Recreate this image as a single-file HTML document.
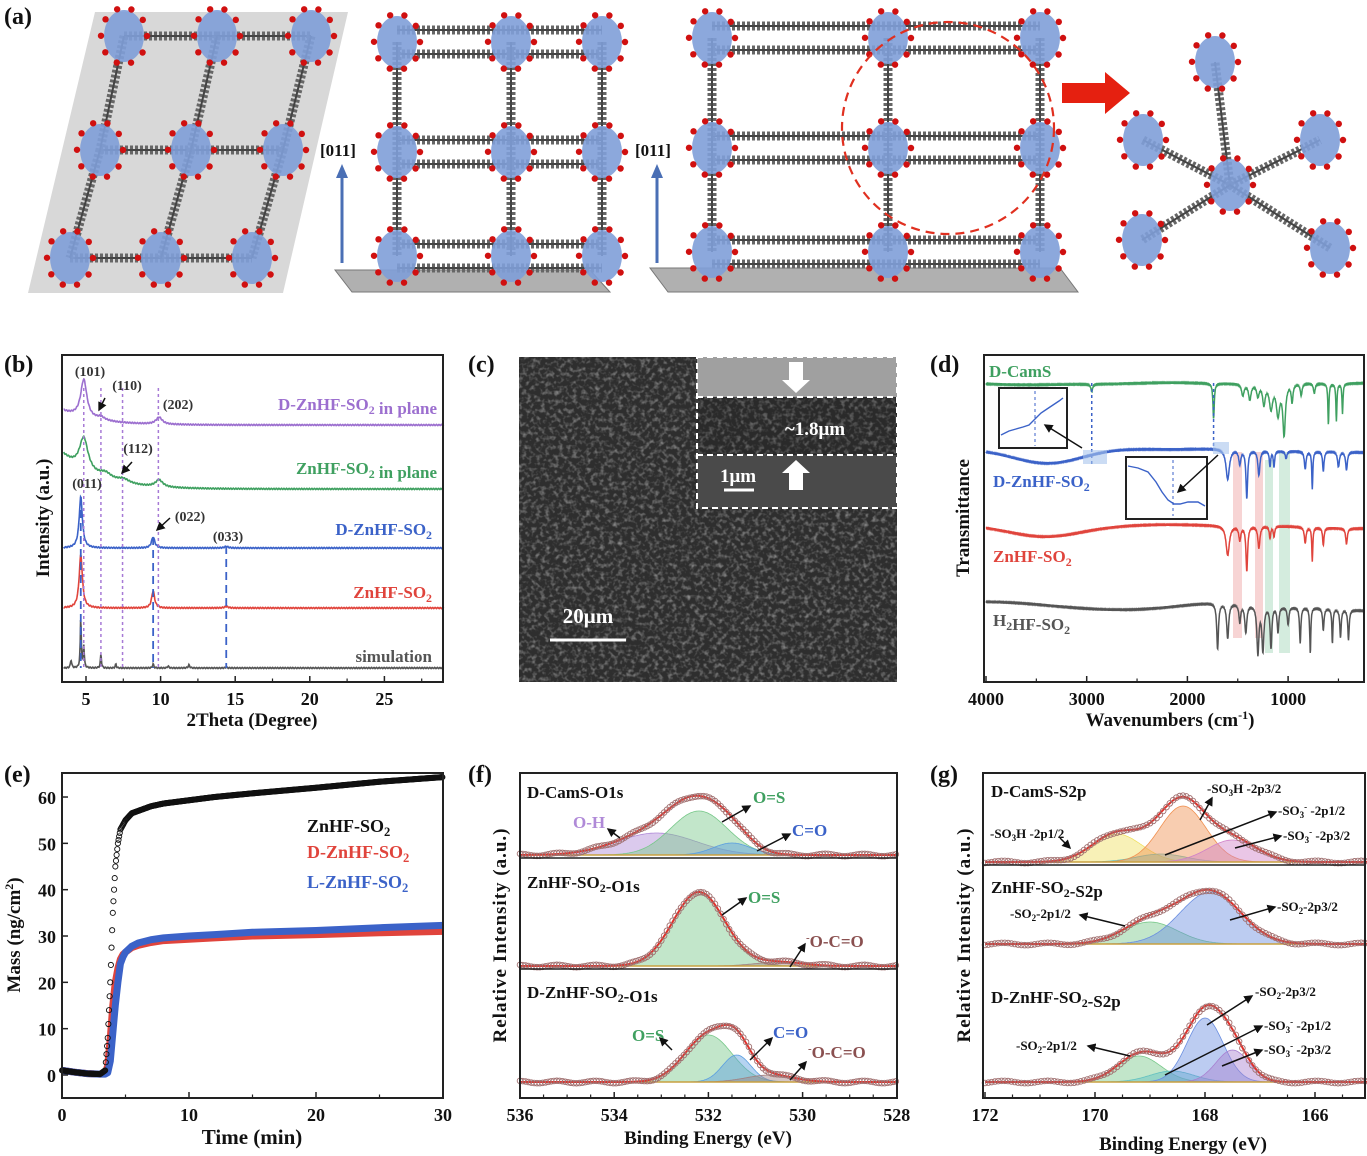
<!DOCTYPE html>
<html><head><meta charset="utf-8"><style>
html,body{margin:0;padding:0;background:#fff;}
svg{display:block;font-family:"Liberation Serif",serif;font-weight:bold;}
</style></head><body>
<svg id="fig" width="1367" height="1156" viewBox="0 0 1367 1156">
<defs>
<filter id="sem2" x="0" y="0" width="100%" height="100%">
<feTurbulence type="fractalNoise" baseFrequency="0.22" numOctaves="2" seed="7"/>
<feColorMatrix type="matrix" values="0 0 0 0 1  0 0 0 0 1  0 0 0 0 1  1.3 0 0 0 -0.6"/>
</filter>
<marker id="ah" markerWidth="6" markerHeight="6" refX="5" refY="3" orient="auto"><path d="M0,0 L6,3 L0,6 Z" fill="#111"/></marker>
</defs>
</svg>
<script>
const NS='http://www.w3.org/2000/svg';
const svg=document.getElementById('fig');
function mk(tag,attrs,name,parent){const el=document.createElementNS(NS,tag);for(const k in attrs)el.setAttribute(k,attrs[k]);


(parent||svg).appendChild(el);return el;}
function txt(x,y,s,size,fill,name,anchor,parent,extra){const t=mk('text',Object.assign({x:x,y:y,'font-size':size,fill:fill||'#111','text-anchor':anchor||'start'},extra||{}),name,parent);t.innerHTML=s;return t;}
function sub(s){return s.replace(/_(\w)/g,'<tspan dy="4" font-size="0.7em">$1</tspan><tspan dy="-4"></tspan>');}
function gauss(x,c,a,s){return a*Math.exp(-((x-c)*(x-c))/(2*s*s));}
function lor(x,c,a,w){return a/(1+((x-c)/w)*((x-c)/w));}

/* ================= (a) structures ================= */
const gA=mk('g',{},'panel-a-structures');
txt(4,24,'(a)',24,'#111','panel-a-label','start',gA);
mk('polygon',{points:'95,12 348,12 283,293 28,293',fill:'#d8d8d8'},'lattice-plane',gA);
mk('polygon',{points:'335,270 590,270 610,292 352,292',fill:'#b0b0b0',stroke:'#777'},'substrate-plate-1',gA);
mk('polygon',{points:'650,268 1060,268 1078,292 668,292',fill:'#b0b0b0',stroke:'#777'},'substrate-plate-2',gA);
function node(x,y,g,n){mk('ellipse',{cx:x,cy:y,rx:20,ry:26,fill:'#7f9fd8',opacity:0.9},n,g);
 for(let i=0;i<10;i++){const a=i*0.63;mk('circle',{cx:x+23*Math.cos(a),cy:y+28*Math.sin(a),r:3.2,fill:'#d01010'},n+'-oxygen',g);}}
function link(x1,y1,x2,y2,g,n){mk('line',{x1:x1,y1:y1,x2:x2,y2:y2,stroke:'#666','stroke-width':9,'stroke-dasharray':'3 2'},n,g);
 mk('line',{x1:x1,y1:y1,x2:x2,y2:y2,stroke:'#444','stroke-width':2},n+'-core',g);}
function lattice(cols,rows,g,n,dbl){
 for(let r=0;r<rows.length;r++)for(let c=0;c<cols[r].length-1;c++){const y=rows[r];
   if(dbl){link(cols[r][c],y-12,cols[r][c+1],y-12,g,n+'-hlink');link(cols[r][c],y+12,cols[r][c+1],y+12,g,n+'-hlink');}
   else link(cols[r][c],y,cols[r][c+1],y,g,n+'-hlink');}
 for(let r=0;r<rows.length-1;r++)for(let c=0;c<cols[r].length;c++)link(cols[r][c],rows[r],cols[r+1][c],rows[r+1],g,n+'-vlink');
 for(let r=0;r<rows.length;r++)for(let c=0;c<cols[r].length;c++)node(cols[r][c],rows[r],g,n+'-node');}
lattice([[124,217,311],[100,191,283],[70,161,252]],[36,150,258],gA,'view1',false);
lattice([[397,511,602],[397,511,602],[397,511,602]],[42,152,256],gA,'view2',true);
lattice([[712,888,1040],[712,888,1040],[712,888,1040]],[38,148,252],gA,'view3',true);
for(const ax of [342,657]){mk('line',{x1:ax,y1:263,x2:ax,y2:175,stroke:'#4a6fb5','stroke-width':3},'direction-arrow',gA);
 mk('polygon',{points:`${ax-6},178 ${ax+6},178 ${ax},164`,fill:'#4a6fb5'},'direction-arrowhead',gA);
 txt(ax-22,156,'[011]',17,'#111','direction-label','start',gA);}
mk('circle',{cx:948,cy:128,r:106,fill:'none',stroke:'#e03020','stroke-width':2.2,'stroke-dasharray':'9 6'},'highlight-circle',gA);
mk('polygon',{points:'1062,83 1105,83 1105,72 1130,93 1105,114 1105,103 1062,103',fill:'#e52010'},'zoom-arrow',gA);
const cl=[[1215,62],[1320,140],[1143,140],[1142,240],[1330,248],[1230,185]];
for(let i=0;i<5;i++)link(cl[5][0],cl[5][1],cl[i][0],cl[i][1],gA,'cluster-link');
for(const p of cl)node(p[0],p[1],gA,'cluster-node');

/* ================= axes helper ================= */
function frame(x0,y0,x1,y1,n){mk('rect',{x:x0,y:y0,width:x1-x0,height:y1-y0,fill:'none',stroke:'#222','stroke-width':2},n);}
function xticks(vals,labels,fx,y1,n,minor){vals.forEach((v,i)=>{const x=fx(v);mk('line',{x1:x,y1:y1,x2:x,y2:y1-6,stroke:'#222','stroke-width':1.5},n+'-tick');
  txt(x,y1+23,labels[i],18,'#111',n+'-tick-label','middle');});
 (minor||[]).forEach(v=>{const x=fx(v);mk('line',{x1:x,y1:y1,x2:x,y2:y1-3.5,stroke:'#222','stroke-width':1.2},n+'-minor-tick');});}
function path(pts,fx,fy,attrs,n,parent){let d='';pts.forEach((p,i)=>{d+=(i?'L':'M')+fx(p[0]).toFixed(1)+','+fy(p[1]).toFixed(1);});return mk('path',Object.assign({d:d,fill:'none'},attrs),n,parent);}

/* ================= (b) XRD ================= */
const bX0=62,bX1=443,bY0=355,bY1=682;
const bx=v=>86+(v-5)*14.92;
txt(4,372,'(b)',24,'#111','panel-b-label');
const xrdNames=['D-ZnHF-SO2 in plane','ZnHF-SO2 in plane','D-ZnHF-SO2','ZnHF-SO2','simulation'];
const xrdColors=['#9c6fcf','#3fa060','#3b62c8','#e0443c','#555'];
const xrdBase=[425,489,548,608,668];
const xrdStartLift=[14,34,0,0,0];
const xrdPeaks=[
 [[4.85,38,0.25],[6.0,3,0.3],[9.9,7,0.25]],
 [[4.85,33,0.35],[6.3,6,0.5],[7.5,4,0.5],[9.9,7,0.3]],
 [[4.65,51,0.13],[9.5,11,0.13],[14.4,1.5,0.15]],
 [[4.65,53,0.13],[9.5,17,0.12],[14.4,1.5,0.15]],
 [[4.0,8,0.05],[4.65,50,0.04],[4.85,22,0.04],[6.0,14,0.04],[7.0,4,0.04],[9.5,4,0.05],[10.5,2,0.05],[11.9,3,0.06],[14.4,1,0.05]]];
xrdBase.forEach((b,k)=>{const pts=[];for(let v=3.5;v<=29;v+=0.03){let y=b-xrdStartLift[k]*Math.exp(-(v-3.5)/2.2);
  xrdPeaks[k].forEach(p=>{y-=lor(v,p[0],p[1],p[2]);});y+=Math.sin(v*37+k)*0.6;pts.push([v,y]);}
  path(pts,bx,y=>y,{stroke:xrdColors[k],'stroke-width':1.6},'xrd-trace-'+k);});
const purpleLines=[4.85,6.0,7.45,9.85];
purpleLines.forEach(v=>mk('line',{x1:bx(v),y1:388,x2:bx(v),y2:668,stroke:'#a77ad6','stroke-width':1.5,'stroke-dasharray':'3 3'},'reflection-guide-purple'));
const blueLines=[4.65,9.5,14.4];const blueTop=[497,537,546];
blueLines.forEach((v,i)=>mk('line',{x1:bx(v),y1:blueTop[i],x2:bx(v),y2:668,stroke:'#3b62c8','stroke-width':1.8,'stroke-dasharray':'8 5'},'reflection-guide-blue'));
frame(bX0,bY0,bX1,bY1,'xrd-frame');
xticks([5,10,15,20,25],['5','10','15','20','25'],bx,bY1,'xrd-x',[7.5,12.5,17.5,22.5,27.5]);
txt(252,726,'2Theta (Degree)',19,'#111','xrd-x-title','middle');
txt(0,0,'Intensity (a.u.)',19,'#111','xrd-y-title','middle',null,{transform:'translate(49,518) rotate(-90)'});
[['(101)',90,376],['(110)',127,390],['(202)',178,409],['(112)',138,453],['(011)',87,488],['(022)',190,521],['(033)',228,541]].forEach(l=>txt(l[1],l[2],l[0],14,'#333','miller-index','middle'));
mk('line',{x1:105,y1:398,x2:99,y2:410,stroke:'#111','stroke-width':1.5,'marker-end':'url(#ah)'},'arrow-110');
mk('line',{x1:132,y1:462,x2:122,y2:473,stroke:'#111','stroke-width':1.5,'marker-end':'url(#ah)'},'arrow-112');
mk('line',{x1:170,y1:518,x2:157,y2:530,stroke:'#111','stroke-width':1.5,'marker-end':'url(#ah)'},'arrow-022');
txt(437,410,sub('D-ZnHF-SO_2 in plane'),17,'#9c6fcf','legend-d-in-plane','end');
txt(437,474,sub('ZnHF-SO_2 in plane'),17,'#3fa060','legend-in-plane','end');
txt(432,535,sub('D-ZnHF-SO_2'),17,'#3b62c8','legend-d-znhf','end');
txt(432,598,sub('ZnHF-SO_2'),17,'#e0443c','legend-znhf','end');
txt(432,662,'simulation',17,'#555','legend-simulation','end');

/* ================= (c) SEM ================= */
txt(468,372,'(c)',24,'#111','panel-c-label');
mk('rect',{x:519,y:357,width:378,height:325,fill:'#2e2e2e'},'sem-image');
mk('rect',{x:519,y:357,width:378,height:325,filter:'url(#sem2)',opacity:0.75},'sem-texture');
mk('rect',{x:697,y:357,width:200,height:151,fill:'#222'},'sem-inset');
mk('rect',{x:697,y:357,width:200,height:40,fill:'#a0a0a0'},'sem-inset-top');
mk('rect',{x:697,y:397,width:200,height:58,fill:'#2a2a2a'},'sem-inset-film');
mk('rect',{x:697,y:397,width:200,height:58,filter:'url(#sem2)',opacity:0.6},'sem-inset-film-texture');
mk('rect',{x:697,y:455,width:200,height:53,fill:'#4a4a4a'},'sem-inset-substrate');
mk('rect',{x:697,y:357,width:200,height:151,fill:'none',stroke:'#fff','stroke-width':2,'stroke-dasharray':'6 4'},'sem-inset-border');
mk('line',{x1:697,y1:397,x2:897,y2:397,stroke:'#fff','stroke-width':2,'stroke-dasharray':'6 4'},'sem-film-top');
mk('line',{x1:697,y1:455,x2:897,y2:455,stroke:'#fff','stroke-width':2,'stroke-dasharray':'6 4'},'sem-film-bottom');
mk('polygon',{points:'789,362 803,362 803,380 810,380 796,393 782,380 789,380',fill:'#fff'},'sem-arrow-down');
mk('polygon',{points:'789,490 803,490 803,473 810,473 796,460 782,473 789,473',fill:'#fff'},'sem-arrow-up');
txt(815,435,'~1.8μm',19,'#fff','sem-thickness-label','middle');
txt(738,482,'1μm',19,'#fff','sem-inset-scale-label','middle');
mk('line',{x1:724,y1:490,x2:754,y2:490,stroke:'#fff','stroke-width':3},'sem-inset-scalebar');
txt(588,623,'20μm',21,'#fff','sem-scale-label','middle');
mk('line',{x1:550,y1:640,x2:626,y2:640,stroke:'#fff','stroke-width':3},'sem-scalebar');

/* ================= (d) FTIR ================= */
const dX0=984,dX1=1364,dY0=355,dY1=682;
const dx=w=>986+(4000-w)*0.1007;
txt(930,372,'(d)',24,'#111','panel-d-label');
mk('rect',{x:1233,y:452,width:9,height:186,fill:'#f2b8b8',opacity:0.6},'band-pink-1');
mk('rect',{x:1255,y:452,width:8,height:186,fill:'#f2b8b8',opacity:0.6},'band-pink-2');
mk('rect',{x:1265,y:460,width:8,height:193,fill:'#b8e0c8',opacity:0.6},'band-green-1');
mk('rect',{x:1279,y:452,width:11,height:201,fill:'#b8e0c8',opacity:0.6},'band-green-2');
const irNames=['D-CamS','D-ZnHF-SO2','ZnHF-SO2','H2HF-SO2'];
const irColors=['#3fa060','#3b62c8','#e0443c','#555'];
const irBase=[383,449,525,602];
const irBroad=[[3400,2,400],[3400,14,350],[3400,12,350],[2700,8,500]];
const irPeaks=[
 [[2950,8,10],[1740,36,8],[1450,12,15],[1380,16,15],[1300,12,15],[1240,20,15],[1170,24,20],[1100,30,20],[1040,50,15],[960,18,10],[870,12,10],[740,10,10],[600,42,6],[520,38,6],[460,30,6]],
 [[1600,30,20],[1480,14,12],[1410,48,10],[1290,25,12],[1180,16,8],[1140,16,8],[1020,8,10],[830,18,10],[760,38,6],[650,20,8],[500,15,10],[420,18,10]],
 [[1600,30,20],[1480,14,12],[1410,45,10],[1290,22,12],[1180,12,8],[1140,10,8],[830,16,10],[760,34,6],[650,18,8],[420,16,10]],
 [[1700,46,10],[1600,35,12],[1480,18,10],[1420,28,12],[1300,48,12],[1250,45,12],[1170,42,10],[1100,26,10],[1000,18,10],[880,36,8],[780,46,6],[650,22,8],[560,35,6],[480,28,8],[400,30,8]]];
irBase.forEach((b,k)=>{const pts=[];for(let w=4000;w>=250;w-=3){let y=b+gauss(w,irBroad[k][0],irBroad[k][1],irBroad[k][2]);
  if(k>0&&w<1700)y+=(1700-w)*0.006*(k===3?1:0.4);
  irPeaks[k].forEach(p=>{y+=lor(w,p[0],p[1],p[2]);});y+=Math.sin(w*0.7+k)*0.5;pts.push([w,Math.min(y,678)]);}
  path(pts,dx,y=>y,{stroke:irColors[k],'stroke-width':1.5},'ir-trace-'+k);});
mk('line',{x1:dx(2950),y1:383,x2:dx(2950),y2:466,stroke:'#3b62c8','stroke-width':1.5,'stroke-dasharray':'3 3'},'ir-guide-2950');
mk('line',{x1:dx(1740),y1:383,x2:dx(1740),y2:450,stroke:'#3b62c8','stroke-width':1.5,'stroke-dasharray':'3 3'},'ir-guide-1740');
mk('rect',{x:1083,y:450,width:24,height:14,fill:'#a8c4ec',opacity:0.6},'ir-highlight-1');
mk('rect',{x:1213,y:442,width:16,height:12,fill:'#a8c4ec',opacity:0.6},'ir-highlight-2');
mk('rect',{x:999,y:388,width:68,height:60,fill:'#fff',stroke:'#222','stroke-width':2},'ir-inset-1');
path([[0,40],[8,36],[15,34],[22,32],[28,30],[34,24],[40,18],[46,14],[52,10],[58,6],[62,3]],v=>1001+v,v=>395+v*1.0,{stroke:'#3b62c8','stroke-width':1.4},'ir-inset-1-trace');
mk('line',{x1:1035,y1:391,x2:1035,y2:446,stroke:'#3b62c8','stroke-dasharray':'3 3'},'ir-inset-1-guide');
mk('line',{x1:1082,y1:448,x2:1045,y2:425,stroke:'#111','stroke-width':1.5,'marker-end':'url(#ah)'},'ir-inset-1-arrow');
mk('rect',{x:1126,y:457,width:81,height:62,fill:'#fff',stroke:'#222','stroke-width':2},'ir-inset-2');
path([[0,4],[10,6],[20,10],[28,20],[34,30],[40,38],[46,42],[52,42],[60,40],[70,40],[77,44]],v=>1128+v,v=>462+v,{stroke:'#3b62c8','stroke-width':1.4},'ir-inset-2-trace');
mk('line',{x1:1173,y1:460,x2:1173,y2:516,stroke:'#3b62c8','stroke-dasharray':'3 3'},'ir-inset-2-guide');
mk('line',{x1:1218,y1:455,x2:1178,y2:492,stroke:'#111','stroke-width':1.5,'marker-end':'url(#ah)'},'ir-inset-2-arrow');
frame(dX0,dY0,dX1,dY1,'ir-frame');
xticks([4000,3000,2000,1000],['4000','3000','2000','1000'],dx,dY1,'ir-x',[3500,2500,1500,500]);
txt(1170,726,'Wavenumbers (cm<tspan dy="-7" font-size="12">-1</tspan><tspan dy="7">)</tspan>',19,'#111','ir-x-title','middle');
txt(0,0,'Transmittance',19,'#111','ir-y-title','middle',null,{transform:'translate(969,518) rotate(-90)'});
txt(989,377,'D-CamS',17,'#3fa060','label-d-cams');
txt(993,487,sub('D-ZnHF-SO_2'),17,'#3b62c8','label-d-znhf');
txt(993,562,sub('ZnHF-SO_2'),17,'#e0443c','label-znhf');
txt(993,626,sub('H_2HF-SO_2'),17,'#555','label-h2hf');

/* ================= (e) mass uptake ================= */
const eX0=62,eX1=443,eY0=773,eY1=1098;
const ex=t=>62+t*12.7, ey=m=>1075-m*4.633;
txt(4,782,'(e)',24,'#111','panel-e-label');
const times=[0,1,2,3,3.4,3.6,3.8,4.0,4.2,4.4,4.6,4.8,5,5.5,6,7,8,10,12,15,20,25,30];
const massZn=[1,0.6,0.3,0.2,1,8,20,35,45,50,53,54,55,56.5,57,58,58.6,59.3,60,60.8,62,63.3,64.3];
const massD=[1,0.6,0.3,0.2,0.3,2,8,15,20,23,25,26,26.5,27.5,28,28.6,29,29.3,29.6,30,30.3,30.7,31];
const massL=[1,0.6,0.3,0.2,0.2,0.5,3,9,15,20,24,25.5,26.5,27.8,28.5,29.2,29.6,30,30.3,30.8,31.2,31.8,32.3];
function interp(ts,ms,t){for(let i=1;i<ts.length;i++)if(t<=ts[i]){const f=(t-ts[i-1])/(ts[i]-ts[i-1]);return ms[i-1]+f*(ms[i]-ms[i-1]);}return ms[ms.length-1];}
[[massD,'#e0443c',7,'mass-d-znhf'],[massL,'#3b62c8',7,'mass-l-znhf']].forEach(s=>{const pts=times.map((t,i)=>[t,s[0][i]]);
  path(pts,ex,ey,{stroke:s[1],'stroke-width':s[2],'stroke-linejoin':'round'},s[3]);});
const gZ=mk('g',{},'mass-znhf');
for(let t=0;t<=30;t+=0.05){const m=interp(times,massZn,t);mk('circle',{cx:ex(t),cy:ey(m),r:2.6,fill:'none',stroke:'#111','stroke-width':0.9},'mass-znhf-point',gZ);}
frame(eX0,eY0,eX1,eY1,'mass-frame');
xticks([0,10,20,30],['0','10','20','30'],ex,eY1,'mass-x',[5,15,25]);
[0,10,20,30,40,50,60].forEach(v=>{mk('line',{x1:eX0,y1:ey(v),x2:eX0+6,y2:ey(v),stroke:'#222','stroke-width':1.5},'mass-y-tick');
 txt(56,ey(v)+7,String(v),18,'#111','mass-y-tick-label','end');});
txt(252,1144,'Time (min)',21,'#111','mass-x-title','middle');
txt(0,0,'Mass (ng/cm<tspan dy="-7" font-size="12">2</tspan><tspan dy="7">)</tspan>',19,'#111','mass-y-title','middle',null,{transform:'translate(20,935) rotate(-90)'});
txt(307,832,sub('ZnHF-SO_2'),18,'#111','legend-mass-znhf');
txt(307,858,sub('D-ZnHF-SO_2'),18,'#e0443c','legend-mass-d');
txt(307,888,sub('L-ZnHF-SO_2'),18,'#3b62c8','legend-mass-l');

/* ================= XPS helper ================= */
function xps(fx,xmin,xmax,base,comps,n,env,step){
 comps.forEach((c,i)=>{const pts=[];for(let v=xmin;v>=xmax;v-=0.02)pts.push([v,base-gauss(v,c[0],c[1],c[2])]);
  const d=pts.map((p,j)=>(j?'L':'M')+fx(p[0]).toFixed(1)+','+p[1].toFixed(1)).join('')+'L'+fx(xmax)+','+base+'L'+fx(xmin)+','+base+'Z';
  mk('path',{d:d,fill:c[3],'fill-opacity':0.45,stroke:c[3],'stroke-width':0.8},n+'-component-'+i);});
 mk('line',{x1:fx(xmin),y1:base,x2:fx(xmax),y2:base,stroke:'#c8a040','stroke-width':1.5},n+'-background');
 const pts=[];for(let v=xmin;v>=xmax;v-=0.02){let y=base;comps.forEach(c=>{y-=gauss(v,c[0],c[1],c[2]);});pts.push([v,y]);}
 path(pts,fx,y=>y,{stroke:'#e0302a','stroke-width':2},n+'-fit');
 const g=mk('g',{},n+'-raw');
 for(let v=xmin;v>=xmax;v-=step){let y=base;comps.forEach(c=>{y-=gauss(v,c[0],c[1],c[2]);});y+=Math.sin(v*97)*1.2;
  mk('circle',{cx:fx(v),cy:y,r:2.8,fill:'none',stroke:'#a07070','stroke-width':0.9},n+'-raw-point',g);}
}
function arrow(x1,y1,x2,y2,n){mk('line',{x1:x1,y1:y1,x2:x2,y2:y2,stroke:'#111','stroke-width':1.5,'marker-end':'url(#ah)'},n);}

/* ================= (f) O1s ================= */
const fX0=520,fX1=897,fY0=773,fY1=1098;
const fx=v=>520+(536-v)*47.1;
txt(468,782,'(f)',24,'#111','panel-f-label');
const o1sTop=[[533.1,22,0.85,'#b08ad8'],[532.2,44,0.6,'#78c88a'],[531.5,12,0.4,'#5a9ee0']];
const o1sMid=[[532.2,74,0.55,'#78c88a'],[530.5,4,0.5,'#a08080']];
const o1sBot=[[532.0,47,0.5,'#78c88a'],[531.4,27,0.3,'#5a9ee0'],[530.7,7,0.5,'#a08080']];
xps(fx,536,528,855,o1sTop,'o1s-dcams',true,0.06);
xps(fx,536,528,966,o1sMid,'o1s-znhf',true,0.06);
xps(fx,536,528,1082,o1sBot,'o1s-dznhf',true,0.06);
mk('line',{x1:fX0,y1:858,x2:fX1,y2:858,stroke:'#222','stroke-width':1.5},'o1s-divider-1');
mk('line',{x1:fX0,y1:969,x2:fX1,y2:969,stroke:'#222','stroke-width':1.5},'o1s-divider-2');
frame(fX0,fY0,fX1,fY1,'o1s-frame');
xticks([536,534,532,530,528],['536','534','532','530','528'],fx,fY1,'o1s-x',[535.5,535,534.5,533.5,533,532.5,531.5,531,530.5,529.5,529,528.5]);
txt(708,1144,'Binding Energy (eV)',19,'#111','o1s-x-title','middle');
txt(0,0,'Relative Intensity (a.u.)',19,'#111','o1s-y-title','middle',null,{transform:'translate(506,935) rotate(-90)',style:'letter-spacing:1px'});
txt(527,798,'D-CamS-O1s',17,'#111','o1s-title-dcams');
txt(527,888,sub('ZnHF-SO_2-O1s'),17,'#111','o1s-title-znhf');
txt(527,998,sub('D-ZnHF-SO_2-O1s'),17,'#111','o1s-title-dznhf');
txt(573,828,'O-H',17,'#b08ad8','o1s-label-oh');arrow(620,838,608,829,'arr');
txt(753,803,'O=S',17,'#3fa060','o1s-label-os');arrow(722,822,750,806,'arr');
txt(792,836,'C=O',17,'#3b62c8','o1s-label-co');arrow(757,851,790,834,'arr');
txt(748,903,'O=S',17,'#3fa060','o1s-label-os-2');arrow(722,915,746,898,'arr');
txt(806,947,'<tspan dy="-6" font-size="11">-</tspan><tspan dy="6">O-C=O</tspan>',17,'#8a5050','o1s-label-oco');arrow(790,967,805,944,'arr');
txt(632,1041,'O=S',17,'#3fa060','o1s-label-os-3');arrow(672,1050,660,1038,'arr');
txt(773,1038,'C=O',17,'#3b62c8','o1s-label-co-3');arrow(750,1060,772,1038,'arr');
txt(808,1058,'<tspan dy="-6" font-size="11">-</tspan><tspan dy="6">O-C=O</tspan>',17,'#8a5050','o1s-label-oco-3');arrow(790,1080,806,1062,'arr');

/* ================= (g) S2p ================= */
const gX0=983,gX1=1365,gY0=773,gY1=1098;
const gx=v=>985+(172-v)*55;
txt(930,782,'(g)',24,'#111','panel-g-label');
const s2pTop=[[169.6,28,0.45,'#f0e060'],[168.8,8,0.45,'#60c0c0'],[168.4,56,0.42,'#f09050'],[167.5,22,0.45,'#d080c8']];
const s2pMid=[[169.0,22,0.5,'#78c88a'],[167.9,52,0.55,'#6a8ee0']];
const s2pBot=[[169.2,26,0.4,'#78c88a'],[168.6,11,0.4,'#60c0c0'],[168.0,64,0.33,'#6a8ee0'],[167.5,32,0.3,'#a880d0']];
xps(gx,172,165,862,s2pTop,'s2p-dcams',true,0.06);
xps(gx,172,165,944,s2pMid,'s2p-znhf',true,0.06);
xps(gx,172,165,1082,s2pBot,'s2p-dznhf',true,0.06);
mk('line',{x1:gX0,y1:865,x2:gX1,y2:865,stroke:'#222','stroke-width':1.5},'s2p-divider');
frame(gX0,gY0,gX1,gY1,'s2p-frame');
xticks([172,170,168,166],['172','170','168','166'],gx,gY1,'s2p-x',[171.5,171,170.5,169.5,169,168.5,167.5,167,166.5,165.5]);
txt(1183,1150,'Binding Energy (eV)',19,'#111','s2p-x-title','middle');
txt(0,0,'Relative Intensity (a.u.)',19,'#111','s2p-y-title','middle',null,{transform:'translate(970,935) rotate(-90)',style:'letter-spacing:1px'});
txt(991,797,'D-CamS-S2p',17,'#111','s2p-title-dcams');
txt(991,893,sub('ZnHF-SO_2-S2p'),17,'#111','s2p-title-znhf');
txt(991,1003,sub('D-ZnHF-SO_2-S2p'),17,'#111','s2p-title-dznhf');
const sl=(x,y,s,n)=>txt(x,y,s,13,'#111',n);
sl(1207,793,'-SO<tspan dy="3" font-size="9">3</tspan><tspan dy="-3">H -2p3/2</tspan>','s2p-label-1');arrow(1200,820,1212,798,'arr');
sl(1278,815,'-SO<tspan dy="3" font-size="9">3</tspan><tspan dy="-8" font-size="9">-</tspan><tspan dy="5"> -2p1/2</tspan>','s2p-label-2');arrow(1165,855,1276,812,'arr');
sl(1283,840,'-SO<tspan dy="3" font-size="9">3</tspan><tspan dy="-8" font-size="9">-</tspan><tspan dy="5"> -2p3/2</tspan>','s2p-label-3');arrow(1235,848,1281,836,'arr');
sl(990,838,'-SO<tspan dy="3" font-size="9">3</tspan><tspan dy="-3">H -2p1/2</tspan>','s2p-label-4');arrow(1060,838,1070,848,'arr');
sl(1010,918,'-SO<tspan dy="3" font-size="9">2</tspan><tspan dy="-3">-2p1/2</tspan>','s2p-label-5');arrow(1125,926,1080,915,'arr');
sl(1277,911,'-SO<tspan dy="3" font-size="9">2</tspan><tspan dy="-3">-2p3/2</tspan>','s2p-label-6');arrow(1230,920,1275,907,'arr');
sl(1255,996,'-SO<tspan dy="3" font-size="9">2</tspan><tspan dy="-3">-2p3/2</tspan>','s2p-label-7');arrow(1207,1025,1252,996,'arr');
sl(1264,1030,'-SO<tspan dy="3" font-size="9">3</tspan><tspan dy="-8" font-size="9">-</tspan><tspan dy="5"> -2p1/2</tspan>','s2p-label-8');arrow(1165,1075,1262,1026,'arr');
sl(1264,1054,'-SO<tspan dy="3" font-size="9">3</tspan><tspan dy="-8" font-size="9">-</tspan><tspan dy="5"> -2p3/2</tspan>','s2p-label-9');arrow(1222,1066,1262,1050,'arr');
sl(1016,1050,'-SO<tspan dy="3" font-size="9">2</tspan><tspan dy="-3">-2p1/2</tspan>','s2p-label-10');arrow(1130,1056,1088,1046,'arr');
</script>
</body></html>
